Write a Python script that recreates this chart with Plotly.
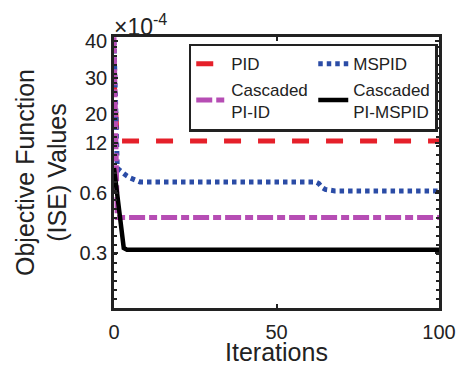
import numpy as np
import plotly.graph_objects as go

# ---------------- data (values in units of 1e-4) ----------------
iterations = list(range(0, 101))

pid_head = [30.0]
pid_level = 12.3

mspid_head = [40.0, 2.6, 2.18, 1.82, 1.61, 1.43, 1.31, 1.2]
mspid_level1 = 1.13
mspid_step = [1.03, 0.81, 0.72, 0.69]   # iterations 63..66
mspid_level2 = 0.66

piid_head = [41.0]
piid_level = 0.45

pimspid_head = [2.6, 0.583, 0.43, 0.316]
pimspid_level = 0.31

tick_labels = ["0.3", "0.6", "12", "20", "30", "40"]
tick_values = [0.3, 0.6, 12, 20, 30, 40]
# non-uniform axis: position (px from bottom of plot) of every labelled tick
tick_positions = [55.5, 115.5, 165.5, 194.0, 230.0, 267.5]
y_top = 271.0

x_ticks = [0, 50, 100]


def build(head, level, n=101):
    vals = list(head) + [level] * (n - len(head))
    return vals


pid = build(pid_head, pid_level)
mspid = build(mspid_head, mspid_level1, 63) + mspid_step
mspid = mspid + [mspid_level2] * (101 - len(mspid))
piid = build(piid_head, piid_level)
pimspid = build(pimspid_head, pimspid_level)


def to_axis(v):
    v = np.asarray(v, dtype=float)
    lv = np.log(np.asarray(tick_values))
    p = np.interp(np.log(v), lv, tick_positions)
    # extend above the last tick
    hi = v > tick_values[-1]
    slope = (tick_positions[-1] - tick_positions[-2]) / (lv[-1] - lv[-2])
    p[hi] = tick_positions[-1] + slope * (np.log(v[hi]) - lv[-1])
    return p


FONT = "Liberation Sans, Arial, sans-serif"

fig = go.Figure()
fig.add_trace(go.Scatter(x=iterations, y=to_axis(pid), mode="lines", name="PID",
                         line=dict(color="#e5202a", width=5, dash="17px,17px")))
fig.add_trace(go.Scatter(x=iterations, y=to_axis(mspid), mode="lines", name="MSPID",
                         line=dict(color="#2b4ca6", width=5, dash="4.5px,4px")))
fig.add_trace(go.Scatter(x=iterations, y=to_axis(piid), mode="lines", name="Cascaded<br>PI-ID",
                         line=dict(color="#b64db4", width=5, dash="16px,4px,8px,4px")))
fig.add_trace(go.Scatter(x=iterations, y=to_axis(pimspid), mode="lines", name="Cascaded<br>PI-MSPID",
                         line=dict(color="black", width=4.5)))

fig.update_layout(
    width=458, height=366,
    margin=dict(l=114, r=19, t=37, b=58, autoexpand=False),
    paper_bgcolor="white", plot_bgcolor="white",
    font=dict(family=FONT, color="#222", size=20),
    showlegend=True,
    legend=dict(orientation="h", x=0.23, y=0.975, xanchor="left", yanchor="top",
                bordercolor="#222", borderwidth=2.5, bgcolor="white",
                font=dict(family=FONT, size=17, color="#222"),
                entrywidth=77, tracegroupgap=0, itemwidth=30),
    xaxis=dict(range=[0, 100], tickvals=x_ticks, ticks="inside", ticklen=4,
               tickwidth=1.5, tickcolor="#222", automargin=False,
               showline=True, linecolor="#222", linewidth=2.5, mirror="allticks",
               showgrid=False, zeroline=False, ticklabelstandoff=4,
               tickfont=dict(size=20, family=FONT, color="#222"),
               title=dict(text="Iterations", font=dict(size=25, family=FONT, color="#222"),
                          standoff=6)),
    yaxis=dict(range=[0, y_top], tickvals=tick_positions, ticktext=tick_labels,
               ticks="inside", ticklen=4, tickwidth=1.5, tickcolor="#222", automargin=False,
               minor=dict(dtick=9, ticks="inside", ticklen=3, tickcolor="#222", tickwidth=1.5),
               showline=True, linecolor="#222", linewidth=2.5, mirror="allticks",
               showgrid=False, zeroline=False,
               tickfont=dict(size=20, family=FONT, color="#222"),
               title=dict(text="Objective Function<br>(ISE) Values",
                          font=dict(size=25, family=FONT, color="#222"), standoff=6)),
)

fig.add_annotation(x=0, y=1, xref="paper", yref="paper", xanchor="left", yanchor="bottom",
                   text="×10<sup>-4</sup>", showarrow=False, yshift=-5, xshift=-2,
                   font=dict(size=23, family=FONT, color="#222"))

fig.write_html("out.html")
